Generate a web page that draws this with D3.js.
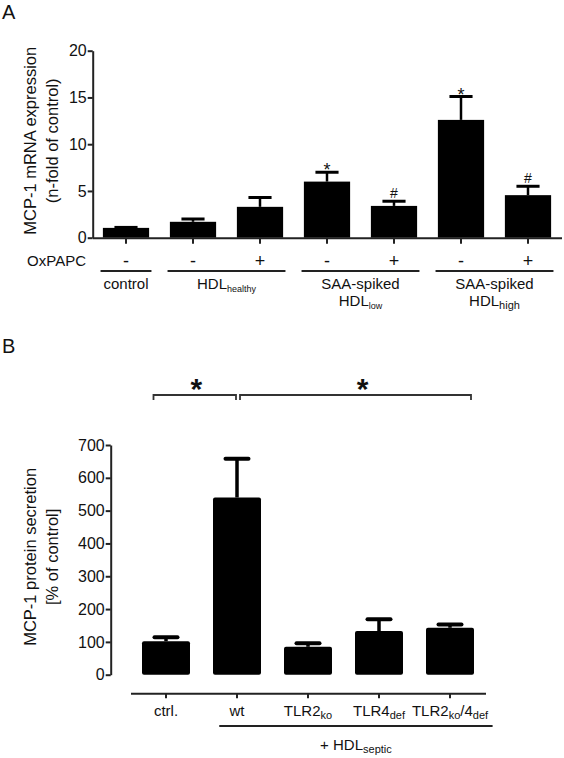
<!DOCTYPE html>
<html><head><meta charset="utf-8">
<script src="https://cdn.jsdelivr.net/npm/d3@7/dist/d3.min.js"></script>
<style>
body{margin:0;background:#fff}
svg{display:block}
text{font-family:"Liberation Sans",Arial,Helvetica,sans-serif;fill:#111}
</style>
</head><body>
<svg id="chart" width="564" height="758"></svg>
<script>
// ---------- Panel A data ----------
const aIds      = ["control", "healthy-", "healthy+", "low-", "low+", "high-", "high+"];
const aOxPAPC   = ["-", "-", "+", "-", "+", "-", "+"];
const aValues   = [1.05, 1.7, 3.3, 6.0, 3.4, 12.6, 4.55];
const aErrors   = [0.05, 0.3, 1.0, 1.0, 0.5, 2.5, 0.95];
const aMarks    = ["", "", "", "*", "#", "*", "#"];
const aYTicks   = [0, 5, 10, 15, 20];
const aGroupLabels  = [["control"], ["HDL{healthy}"], ["SAA-spiked", "HDL{low}"], ["SAA-spiked", "HDL{high}"]];
const aGroupMembers = [["control"], ["healthy-", "healthy+"], ["low-", "low+"], ["high-", "high+"]];
const aYLabel   = ["MCP-1 mRNA expression", "(n-fold of control)"];

// ---------- Panel B data ----------
const bLabels   = ["ctrl.", "wt", "TLR2{ko}", "TLR4{def}", "TLR2{ko}/4{def}"];
const bValues   = [102, 540, 85, 133, 143];
const bErrors   = [12, 118, 11, 36, 10];
const bYTicks   = [0, 100, 200, 300, 400, 500, 600, 700];
const bBracketFrom = ["ctrl.", "wt"];
const bBracketTo   = ["wt", "TLR2{ko}/4{def}"];
const bBracketMark = ["*", "*"];
const bGroupLabel  = "+ HDL{septic}";
const bYLabel   = ["MCP-1 protein secretion", "[% of control]"];

const svg = d3.select("#chart");

// rich text with {subscript}
function rich(sel, str, size, subSize, shift) {
  sel.attr("font-size", size);
  const re = /([^{]+)|\{([^}]*)\}/g;
  let m, pendingUp = 0;
  while ((m = re.exec(str)) !== null) {
    if (m[1] !== undefined) {
      const t = sel.append("tspan").text(m[1]).attr("font-size", size);
      if (pendingUp) { t.attr("dy", -pendingUp); pendingUp = 0; }
    } else {
      sel.append("tspan").text(m[2]).attr("font-size", subSize).attr("dy", shift);
      pendingUp = shift;
    }
  }
  return sel;
}

// ================= PANEL A =================
const gA = svg.append("g");
const xA = d3.scaleBand().domain(aIds).range([92.5, 561.5]).paddingInner(0.31).paddingOuter(0.155);
const yA = d3.scaleLinear().domain([0, 20]).range([237.7, 50.7]);
const cA = id => xA(id) + xA.bandwidth() / 2;

gA.append("text").attr("x", 2).attr("y", 19).attr("font-size", 20).text("A");

// bars
gA.selectAll("rect.bar").data(aIds).join("rect")
  .attr("x", d => xA(d)).attr("width", xA.bandwidth())
  .attr("y", (d, i) => yA(aValues[i])).attr("height", (d, i) => yA(0) - yA(aValues[i]))
  .attr("fill", "#000");
// error bars
aIds.forEach((id, i) => {
  const cx = cA(id), top = yA(aValues[i] + aErrors[i]);
  gA.append("line").attr("x1", cx).attr("x2", cx).attr("y1", yA(aValues[i])).attr("y2", top)
    .attr("stroke", "#000").attr("stroke-width", 2.5);
  gA.append("line").attr("x1", cx - xA.bandwidth() / 4).attr("x2", cx + xA.bandwidth() / 4)
    .attr("y1", top).attr("y2", top).attr("stroke", "#000").attr("stroke-width", 3);
  if (aMarks[i] === "*") {
    gA.append("text").attr("x", cx).attr("y", top + 4).attr("text-anchor", "middle").attr("font-size", 18).text("*");
  } else if (aMarks[i] === "#") {
    gA.append("text").attr("x", cx).attr("y", top - 3).attr("text-anchor", "middle").attr("font-size", 14).text("#");
  }
});

// axes
const axAy = gA.append("g").attr("transform", "translate(92.7,0)")
  .call(d3.axisLeft(yA).tickValues(aYTicks).tickSize(5).tickSizeOuter(0).tickPadding(1));
const axAx = gA.append("g").attr("transform", `translate(0,${yA(0)})`)
  .call(d3.axisBottom(xA).tickSize(6).tickSizeOuter(0).tickFormat(""));
[axAy, axAx].forEach(a => {
  a.selectAll("path,line").attr("stroke", "#222").attr("stroke-width", 2);
  a.selectAll("text").attr("font-size", 16).attr("fill", "#111").attr("font-family", "'Liberation Sans',Arial,sans-serif");
});

// y label
aYLabel.forEach((t, i) => {
  gA.append("text").attr("transform", `translate(${36 + i * 21.5},${(yA(0) + yA(20)) / 2 - 3.4}) rotate(-90)`)
    .attr("text-anchor", "middle").attr("font-size", 16.5).text(t);
});

// OxPAPC row
gA.append("text").attr("x", 86).attr("y", 265.5).attr("text-anchor", "end").attr("font-size", 15).text("OxPAPC");
aIds.forEach((id, i) => {
  gA.append("text").attr("x", cA(id)).attr("y", 267).attr("text-anchor", "middle").attr("font-size", 18).text(aOxPAPC[i]);
});
// group lines and labels
aGroupMembers.forEach((mem, gi) => {
  const x1 = cA(mem[0]) - 0.38 * xA.step(), x2 = cA(mem[mem.length - 1]) + 0.38 * xA.step();
  gA.append("line").attr("x1", x1).attr("x2", x2).attr("y1", 271).attr("y2", 271)
    .attr("stroke", "#222").attr("stroke-width", 1.8);
  aGroupLabels[gi].forEach((t, li) => {
    const tx = gA.append("text").attr("x", (x1 + x2) / 2).attr("y", 289 + li * 17).attr("text-anchor", "middle");
    rich(tx, t, 15, t.includes("high") ? 11 : 9, 3);
  });
});

// ================= PANEL B =================
const gB = svg.append("g");
const xB = d3.scaleBand().domain(bLabels).range([130.5, 485.5]).paddingInner(0.324).paddingOuter(0.162);
const yB = d3.scaleLinear().domain([0, 700]).range([674.7, 445]);
const cB = id => xB(id) + xB.bandwidth() / 2;

gB.append("text").attr("x", 2).attr("y", 353).attr("font-size", 20).text("B");

gB.selectAll("rect.bar").data(bLabels).join("rect")
  .attr("x", d => xB(d)).attr("width", xB.bandwidth())
  .attr("y", (d, i) => yB(bValues[i])).attr("height", (d, i) => yB(0) - yB(bValues[i]))
  .attr("rx", 2).attr("fill", "#000");
bLabels.forEach((id, i) => {
  const cx = cB(id), top = yB(bValues[i] + bErrors[i]);
  gB.append("line").attr("x1", cx).attr("x2", cx).attr("y1", yB(bValues[i])).attr("y2", top)
    .attr("stroke", "#000").attr("stroke-width", 3.5);
  gB.append("line").attr("x1", cx - 11.5).attr("x2", cx + 11.5)
    .attr("y1", top).attr("y2", top).attr("stroke", "#000").attr("stroke-width", 4).attr("stroke-linecap", "round");
});

const axBy = gB.append("g").attr("transform", "translate(110.7,0)")
  .call(d3.axisLeft(yB).tickValues(bYTicks).tickSize(5).tickSizeOuter(0).tickPadding(1));
const axBx = gB.append("g").attr("transform", "translate(0,693.3)")
  .call(d3.axisBottom(xB).tickSize(5).tickSizeOuter(0).tickFormat(""));
[axBy, axBx].forEach(a => {
  a.selectAll("path,line").attr("stroke", "#222").attr("stroke-width", 2);
  a.selectAll("text").attr("font-size", 16).attr("fill", "#111").attr("font-family", "'Liberation Sans',Arial,sans-serif");
});

// x labels
bLabels.forEach(id => {
  const tx = gB.append("text").attr("x", cB(id)).attr("y", 716).attr("text-anchor", "middle");
  rich(tx, id, 15, 11, 3);
});
// + HDL septic
{
  const x1 = cB("wt") - 0.25 * xB.step(), x2 = cB(bLabels[bLabels.length - 1]) + 0.6 * xB.step();
  gB.append("line").attr("x1", x1).attr("x2", x2).attr("y1", 726).attr("y2", 726)
    .attr("stroke", "#222").attr("stroke-width", 1.8);
  const tx = gB.append("text").attr("x", (x1 + x2) / 2).attr("y", 750).attr("text-anchor", "middle");
  rich(tx, bGroupLabel, 15, 11, 3);
}
// y label
bYLabel.forEach((t, i) => {
  gB.append("text").attr("transform", `translate(${36 + i * 21.5},${(yB(0) + yB(700)) / 2 - 3}) rotate(-90)`)
    .attr("text-anchor", "middle").attr("font-size", 16.5).text(t);
});
// brackets
bBracketFrom.forEach((f, i) => {
  const x1 = i === 0 ? cB(f) - 12.5 : cB(f) + 3;
  const x2 = i === 0 ? cB(bBracketTo[i]) - 1 : cB(bBracketTo[i]) + 21;
  gB.append("path").attr("d", `M${x1},400 V395 H${x2} V400`).attr("fill", "none")
    .attr("stroke", "#333").attr("stroke-width", 1.8);
  gB.append("text").attr("x", (x1 + x2) / 2 + (i === 0 ? 1.5 : 7)).attr("y", 399).attr("text-anchor", "middle")
    .attr("font-size", 30).attr("font-weight", "bold").text(bBracketMark[i]);
});
</script>
</body></html>
